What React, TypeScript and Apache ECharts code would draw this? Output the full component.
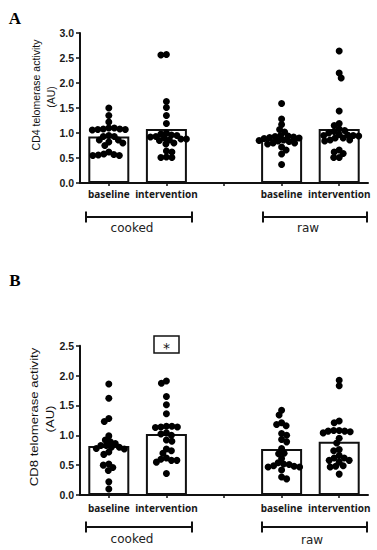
import React, { useEffect, useRef } from "react";
import * as echarts from "echarts";

// ---------- data ----------
const categories = ["baseline", "intervention", "", "baseline", "intervention"];
const groupLabels = ["cooked", "raw"];
const panelLetters = ["A", "B"];
const yTitles = ["CD4 telomerase activity", "CD8 telomerase activity"];
const yUnit = "(AU)";
const cd4Max = 3.0;
const cd8Max = 2.5;
const tickStep = 0.5;

// bar heights (group means); middle slot is the gap
const cd4Means = [0.93, 1.08, null, 0.88, 1.08];
const cd8Means = [0.82, 1.02, null, 0.77, 0.89];

// individual values, panel A (CD4)
const cd4CookedBaseline = [1.5, 1.35, 1.22, 1.1, 1.08, 1.07, 1.06, 1.07, 1.08, 1.1, 0.95, 0.93, 0.86, 0.82, 0.8, 0.86, 0.93, 0.75, 0.62, 0.57, 0.55, 0.55, 0.56, 0.58];
const cd4CookedIntervention = [2.57, 2.56, 1.63, 1.51, 1.35, 1.19, 1.0, 0.98, 0.96, 0.93, 0.9, 0.88, 0.86, 0.85, 0.88, 0.92, 0.95, 0.8, 0.78, 0.62, 0.51, 0.51, 0.52, 0.64];
const cd4RawBaseline = [1.59, 1.28, 1.17, 1.07, 1.02, 0.95, 0.93, 0.91, 0.89, 0.9, 0.92, 0.94, 0.85, 0.83, 0.8, 0.78, 0.8, 0.84, 0.86, 0.72, 0.66, 0.58, 0.37];
const cd4RawIntervention = [2.64, 2.2, 2.1, 1.44, 1.19, 1.15, 1.08, 1.05, 1.0, 0.95, 0.9, 0.86, 0.84, 0.86, 0.9, 0.97, 1.03, 0.96, 0.95, 0.94, 0.66, 0.59, 0.51, 0.51, 0.62];

// individual values, panel B (CD8)
const cd8CookedBaseline = [1.86, 1.62, 1.28, 1.23, 0.99, 0.92, 0.89, 0.86, 0.83, 0.8, 0.78, 0.77, 0.8, 0.83, 0.72, 0.68, 0.52, 0.5, 0.46, 0.41, 0.22, 0.1];
const cd8CookedIntervention = [1.91, 1.87, 1.65, 1.51, 1.36, 1.15, 1.14, 1.13, 1.14, 1.15, 1.04, 1.0, 1.02, 0.92, 0.9, 0.77, 0.74, 0.7, 0.6, 0.58, 0.55, 0.58, 0.62, 0.36];
const cd8RawBaseline = [1.42, 1.34, 1.21, 1.18, 1.16, 1.03, 1.0, 0.93, 0.89, 0.78, 0.7, 0.69, 0.61, 0.54, 0.51, 0.48, 0.47, 0.47, 0.49, 0.52, 0.42, 0.3, 0.27];
const cd8RawIntervention = [1.92, 1.83, 1.24, 1.21, 1.08, 1.07, 1.06, 1.04, 1.07, 1.08, 0.95, 0.87, 0.76, 0.74, 0.66, 0.62, 0.58, 0.55, 0.58, 0.62, 0.48, 0.47, 0.49, 0.35];

const cd4Groups = [cd4CookedBaseline, cd4CookedIntervention, null, cd4RawBaseline, cd4RawIntervention];
const cd8Groups = [cd8CookedBaseline, cd8CookedIntervention, null, cd8RawBaseline, cd8RawIntervention];

// ---------- layout ----------
const W = 377;
const H = 550;
const GRID_LEFT = 80;
const GRID_W = 288;
const GRID_A = { top: 33, height: 150 };
const GRID_B = { top: 345.7, height: 149.3 };
const CAT_W = GRID_W / categories.length;
const DOT = 7;
const FONT_SANS = "Liberation Sans, Arial, sans-serif";

// simple beeswarm layout (pixel offsets)
function swarm(values: number[], pxPerUnit: number, gap: number): number[] {
  const order = values.map((_, i) => i).sort((a, b) => values[b] - values[a]);
  const placed: [number, number][] = [];
  const out = new Array(values.length).fill(0);
  order.forEach((i, n) => {
    const y = values[i] * pxPerUnit;
    const sign = n % 2 === 0 ? 1 : -1;
    for (let k = 0; k < 600; k++) {
      const x = k === 0 ? 0 : Math.ceil(k / 2) * 0.5 * (k % 2 === 1 ? sign : -sign);
      if (placed.every(([px, py]) => (px - x) ** 2 + (py - y) ** 2 >= gap * gap)) {
        out[i] = x;
        placed.push([x, y]);
        break;
      }
    }
  });
  return out;
}

function dotsFor(groups: (number[] | null)[], pxPerUnit: number) {
  const pts: number[][] = [];
  groups.forEach((g, ci) => {
    if (!g) return;
    const off = swarm(g, pxPerUnit, 5.3);
    g.forEach((v, j) => pts.push([ci + 0.5 + off[j] / CAT_W, v]));
  });
  return pts;
}

function App() {
  const ref = useRef<HTMLDivElement>(null);
  useEffect(() => {
    if (!ref.current) return;
    const chart = echarts.init(ref.current, null, { renderer: "svg", width: W, height: H });

    const yAxisCommon = (max: number, gi: number) => ({
      type: "value",
      gridIndex: gi,
      min: 0,
      max,
      interval: tickStep,
      axisLine: { show: true, lineStyle: { color: "#111", width: 2 } },
      axisTick: { show: true, length: 4, lineStyle: { color: "#111", width: 1.5 } },
      axisLabel: {
        margin: 6,
        color: "#1a1a1a",
        fontFamily: FONT_SANS,
        fontWeight: "bold",
        fontSize: 10.5,
        formatter: (v: number) => v.toFixed(1),
      },
      splitLine: { show: false },
    });
    const xCat = (gi: number, margin: number) => ({
      type: "category",
      gridIndex: gi,
      data: categories,
      boundaryGap: true,
      axisLine: { show: true, lineStyle: { color: "#111", width: 2 } },
      axisTick: { show: true, alignWithLabel: true, interval: 0, length: 3, lineStyle: { color: "#111", width: 1.5 } },
      axisLabel: {
        interval: 0,
        margin,
        color: "#1a1a1a",
        fontFamily: "Noto Sans, DejaVu Sans, sans-serif",
        fontWeight: "bold",
        fontSize: 10,
      },
      splitLine: { show: false },
    });
    const xVal = (gi: number) => ({ type: "value", gridIndex: gi, min: 0, max: categories.length, show: false, splitLine: { show: false } });

    const pxA = GRID_A.height / cd4Max;
    const pxB = GRID_B.height / cd8Max;

    const bracket = (x1: number, x2: number, y: number) => [
      { type: "line", shape: { x1, y1: y, x2, y2: y }, style: { stroke: "#111", lineWidth: 2 } },
      { type: "line", shape: { x1, y1: y - 5.5, x2: x1, y2: y + 5.5 }, style: { stroke: "#111", lineWidth: 2 } },
      { type: "line", shape: { x1: x2, y1: y - 5.5, x2, y2: y + 5.5 }, style: { stroke: "#111", lineWidth: 2 } },
    ];
    const label = (text: string, x: number, y: number, extra: any = {}) => ({
      type: "text",
      x,
      y,
      style: {
        text,
        fill: "#222",
        fontFamily: "DejaVu Sans, Verdana, sans-serif",
        fontSize: 12,
        textAlign: "center",
        textVerticalAlign: "middle",
        ...extra,
      },
    });
    const yTitle = (text: string, x: number, y: number, sx = 1) => ({
      type: "text",
      x,
      y,
      rotation: Math.PI / 2,
      scaleX: sx,
      style: {
        text,
        fill: "#111",
        fontFamily: FONT_SANS,
        fontSize: 10.5,
        textAlign: "center",
        textVerticalAlign: "middle",
      },
    });

    const option: any = {
      animation: false,
      backgroundColor: "#fff",
      grid: [
        { left: GRID_LEFT, top: GRID_A.top, width: GRID_W, height: GRID_A.height },
        { left: GRID_LEFT, top: GRID_B.top, width: GRID_W, height: GRID_B.height },
      ],
      xAxis: [xCat(0, 6), xVal(0), xCat(1, 8), xVal(1)],
      yAxis: [yAxisCommon(cd4Max, 0), yAxisCommon(cd8Max, 1)],
      series: [
        {
          type: "bar",
          xAxisIndex: 0,
          yAxisIndex: 0,
          barWidth: 41,
          data: cd4Means.map((v) => (v == null ? "-" : v)),
          itemStyle: { color: "#fff", borderColor: "#111", borderWidth: 2 },
          z: 2,
        },
        {
          type: "scatter",
          xAxisIndex: 1,
          yAxisIndex: 0,
          symbol: "circle",
          symbolSize: DOT,
          data: dotsFor(cd4Groups, pxA),
          itemStyle: { color: "#000", opacity: 1 },
          z: 3,
        },
        {
          type: "bar",
          xAxisIndex: 2,
          yAxisIndex: 1,
          barWidth: 41,
          data: cd8Means.map((v) => (v == null ? "-" : v)),
          itemStyle: { color: "#fff", borderColor: "#111", borderWidth: 2 },
          z: 2,
        },
        {
          type: "scatter",
          xAxisIndex: 3,
          yAxisIndex: 1,
          symbol: "circle",
          symbolSize: DOT,
          data: dotsFor(cd8Groups, pxB),
          itemStyle: { color: "#000", opacity: 1 },
          z: 3,
        },
      ],
      graphic: [
        // panel letters
        label(panelLetters[0], 15, 18, { fontFamily: "Liberation Serif, Times New Roman, serif", fontWeight: "bold", fontSize: 17, fill: "#000" }),
        label(panelLetters[1], 15, 280, { fontFamily: "Liberation Serif, Times New Roman, serif", fontWeight: "bold", fontSize: 17, fill: "#000" }),
        // y titles
        yTitle(yTitles[0], 36, 95),
        yTitle(yUnit, 51, 97),
        yTitle(yTitles[1], 34, 417, 1.25),
        yTitle(yUnit, 50, 419, 1.25),
        // brackets A
        ...bracket(86, 192, 217),
        ...bracket(263, 367, 217),
        label(groupLabels[0], 132, 228),
        label(groupLabels[1], 308, 228),
        // brackets B
        ...bracket(86, 192, 527),
        ...bracket(262, 367, 527),
        label(groupLabels[0], 132, 539),
        label(groupLabels[1], 312, 540),
        // significance box
        {
          type: "rect",
          shape: { x: 154, y: 336, width: 25, height: 17 },
          style: { fill: "#fff", stroke: "#111", lineWidth: 1.5 },
        },
        label("*", 166.5, 348, { fontSize: 14, fill: "#111" }),
      ],
    };
    chart.setOption(option);
    return () => chart.dispose();
  }, []);
  return <div ref={ref} style={{ position: "absolute", left: 0, top: 0, width: W, height: H }} />;
}

export default App;
